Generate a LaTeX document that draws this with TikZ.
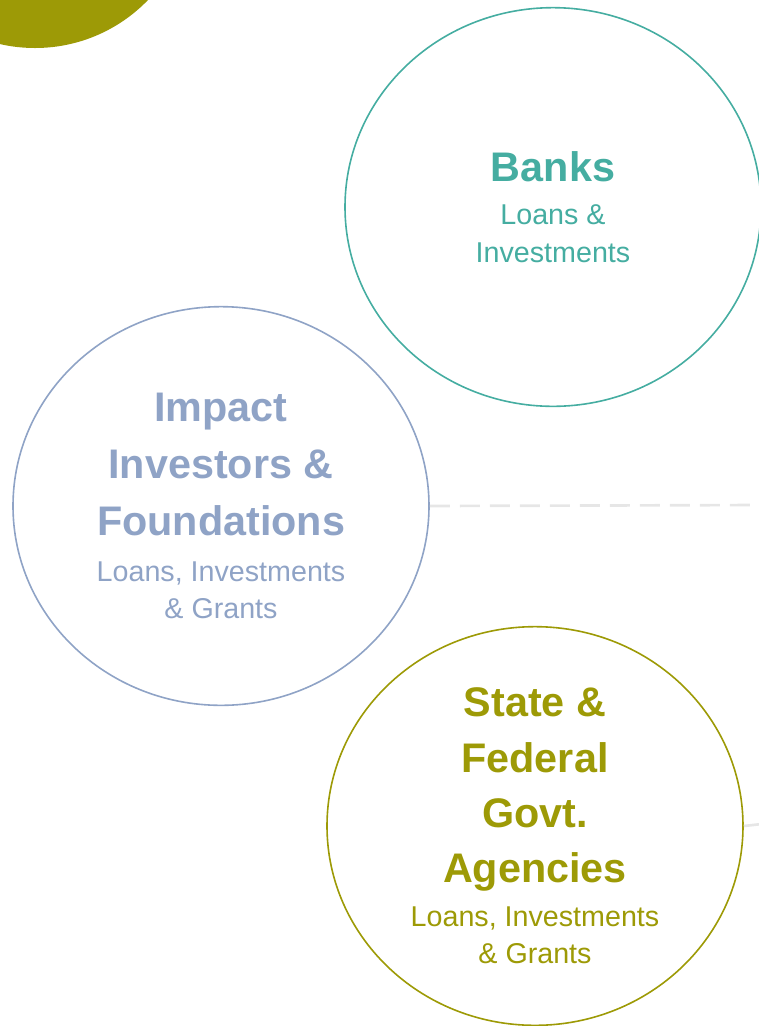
\documentclass[tikz,border=0pt]{standalone}
\usepackage{fontspec}
\setmainfont{Liberation Sans}
\usetikzlibrary{shapes.geometric}

\definecolor{bankteal}{HTML}{45ADA1}
\definecolor{impactblue}{HTML}{8FA3C6}
\definecolor{govolive}{HTML}{9D9A06}
\definecolor{linegray}{HTML}{E6E6E6}

\newcommand{\titlefont}{\fontsize{31}{42.5}\selectfont\bfseries}
\newcommand{\subfont}{\fontsize{21.5}{28}\selectfont\mdseries}

\tikzset{
  fundcircle/.style={ellipse, draw=#1, text=#1, line width=1.2pt, inner sep=0pt,
    minimum width=312pt, minimum height=299pt, align=center, font=\titlefont},
  linkline/.style={draw=linegray, line width=2pt}
}

\begin{document}
\begin{tikzpicture}[x=0.75pt, y=-0.75pt]
    % Page frame
    \useasboundingbox (0,0) rectangle (759,1026);
    \clip (0,0) rectangle (759,1026);

    % Corner blob
    \fill[govolive] (35,-109) circle (157);

    % Funding sources
    \node[fundcircle=bankteal] (banks) at (553,207)
      {Banks\\[-10pt] \subfont Loans \&\\[-14.5pt] \subfont Investments};
    \node[fundcircle=impactblue] (impact) at (221,506)
      {Impact\\ Investors \&\\ Foundations\\[-8pt] \subfont Loans, Investments\\[-14.5pt] \subfont \& Grants};
    \node[fundcircle=govolive] (state) at (535,826)
      {State \&\\[-1pt] Federal\\[-1pt] Govt.\\[-1pt] Agencies\\[-10pt] \subfont Loans, Investments\\[-14.5pt] \subfont \& Grants};

    % Links to the right
    \coordinate (impactout) at (762,505);
    \coordinate (stateout) at (762,824);
    \draw[linkline, dash pattern=on 15pt off 7.5pt] (impact.east) -- (impactout);
    \draw[linkline] (state.east) -- (stateout);

\end{tikzpicture}
\end{document}
